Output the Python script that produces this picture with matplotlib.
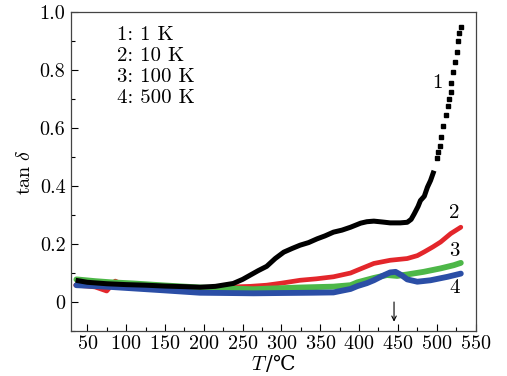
import matplotlib
matplotlib.use("Agg")
import matplotlib.pyplot as plt
import numpy as np

# ---- data ----
t1 = [35, 50, 75, 100, 125, 150, 175, 195, 215, 238, 250, 260, 270, 281, 292, 303,
      314, 324, 335, 346, 356, 367, 378, 389, 402, 410, 419, 430, 440, 453, 462, 467,
      471, 476, 479, 484, 488, 492, 496.5,
      500.8, 502.1, 503.8, 505.5, 508, 511.5, 515, 516.3, 518, 518.9, 521.4, 523.2,
      525.7, 527.9, 529.2, 531]
y1 = [0.075, 0.068, 0.063, 0.060, 0.058, 0.055, 0.053, 0.051, 0.054, 0.064, 0.078, 0.093,
      0.108, 0.123, 0.150, 0.172, 0.185, 0.196, 0.205, 0.218, 0.228, 0.241, 0.248, 0.258,
      0.272, 0.277, 0.279, 0.276, 0.273, 0.273, 0.275, 0.285, 0.304, 0.330, 0.350, 0.365,
      0.396, 0.419, 0.453,
      0.498, 0.516, 0.539, 0.569, 0.607, 0.645, 0.676, 0.699, 0.725, 0.756, 0.792, 0.828,
      0.864, 0.901, 0.927, 0.950]

t2 = [35, 50, 60, 75, 86, 100, 120, 140, 160, 180, 200, 220, 238, 260, 281, 300, 324,
      345, 367, 389, 398, 419, 440, 462, 475, 484, 495, 505, 518, 531]
y2 = [0.058, 0.055, 0.052, 0.038, 0.072, 0.055, 0.052, 0.050, 0.048, 0.043, 0.047, 0.050,
      0.052, 0.054, 0.058, 0.065, 0.075, 0.080, 0.087, 0.100, 0.110, 0.133, 0.144, 0.150,
      0.160, 0.173, 0.190, 0.207, 0.236, 0.258]

t3 = [36, 60, 80, 109, 150, 195, 230, 264, 281, 324, 367, 389, 398, 419, 436, 449, 462,
      483, 505, 522, 531]
y3 = [0.078, 0.072, 0.068, 0.064, 0.057, 0.050, 0.047, 0.044, 0.046, 0.050, 0.053, 0.058,
      0.068, 0.083, 0.093, 0.090, 0.095, 0.104, 0.116, 0.127, 0.135]

t4 = [36, 60, 80, 109, 150, 195, 230, 264, 300, 340, 367, 376, 389, 398, 410, 419, 430,
      440, 447, 455, 462, 475, 492, 514, 531]
y4 = [0.058, 0.055, 0.052, 0.047, 0.040, 0.032, 0.031, 0.030, 0.031, 0.032, 0.033, 0.038,
      0.045, 0.055, 0.065, 0.075, 0.090, 0.102, 0.104, 0.092, 0.078, 0.070, 0.075, 0.087,
      0.098]

legend_lines = ["1: 1 K", "2: 10 K", "3: 100 K", "4: 500 K"]
curve_labels = ["1", "2", "3", "4"]
label_pos = [(501.5, 0.755), (523, 0.308), (523, 0.175), (523, 0.047)]
arrow_T = 445
arrow_from, arrow_to = 0.0, -0.068

xticks = [50, 100, 150, 200, 250, 300, 350, 400, 450, 500, 550]
yticks = [0, 0.2, 0.4, 0.6, 0.8, 1.0]
ytick_labels = ["0", "0.2", "0.4", "0.6", "0.8", "1.0"]

# ---- style ----
plt.rcParams['font.family'] = ['cmr10', 'DejaVu Serif']
plt.rcParams['mathtext.fontset'] = 'cm'
plt.rcParams['axes.formatter.use_mathtext'] = True

fig = plt.figure(figsize=(5.07, 3.76), dpi=100)
ax = fig.add_axes([0.140, 0.1197, 0.798, 0.848])

c_red = '#e3262b'
c_green = '#4db748'
c_blue = '#2b4ea6'

ax.plot(t2, y2, color=c_red, lw=3.4, solid_capstyle='round', zorder=2)
ax.plot(t3, y3, color=c_green, lw=4.2, solid_capstyle='round', zorder=3)
ax.plot(t4, y4, color=c_blue, lw=4.2, solid_capstyle='round', zorder=4)

t1a = np.array(t1)
y1a = np.array(y1)
dense = t1a <= 497
ax.plot(t1a[dense], y1a[dense], color='black', lw=3.6, solid_capstyle='butt', zorder=5)
ax.plot(t1a[~dense], y1a[~dense], ls='none', marker='s', ms=3.0, color='black', zorder=5)

for lab, (x, y) in zip(curve_labels, label_pos):
    ax.text(x, y, lab, fontsize=15, ha='center', va='center')

ax.annotate('', xy=(arrow_T, arrow_to), xytext=(arrow_T, arrow_from),
            arrowprops=dict(arrowstyle='->', lw=0.8, color='black',
                            mutation_scale=8, shrinkA=0, shrinkB=0))

for i, line in enumerate(legend_lines):
    ax.text(0.114, 0.914 - i * 0.0665, line, transform=ax.transAxes,
            fontsize=15, va='baseline', ha='left')

ax.set_xlim(29, 550)
ax.set_ylim(-0.1, 1.0)
ax.set_xticks(xticks)
ax.set_xticks(np.arange(75, 550, 50), minor=True)
ax.set_yticks(yticks)
ax.set_yticklabels(ytick_labels)
ax.set_yticks([-0.1, 0.1, 0.3, 0.5, 0.7, 0.9], minor=True)
ax.tick_params(which='both', direction='in', top=False, right=False, labelsize=14.5)
ax.tick_params(which='major', length=5, width=0.8)
ax.tick_params(which='minor', length=3, width=0.8)
ax.tick_params(axis='y', pad=4)
ax.tick_params(axis='x', pad=3)

for s in ax.spines.values():
    s.set_color('#444444')
    s.set_linewidth(0.9)

ax.set_ylabel(r'$\tan\,\delta$', fontsize=14.5, labelpad=4)
ax.set_xlabel(r'$T\,$/℃', fontsize=14.5, labelpad=0, family='DejaVu Serif')

fig.savefig('out.png', dpi=100)
